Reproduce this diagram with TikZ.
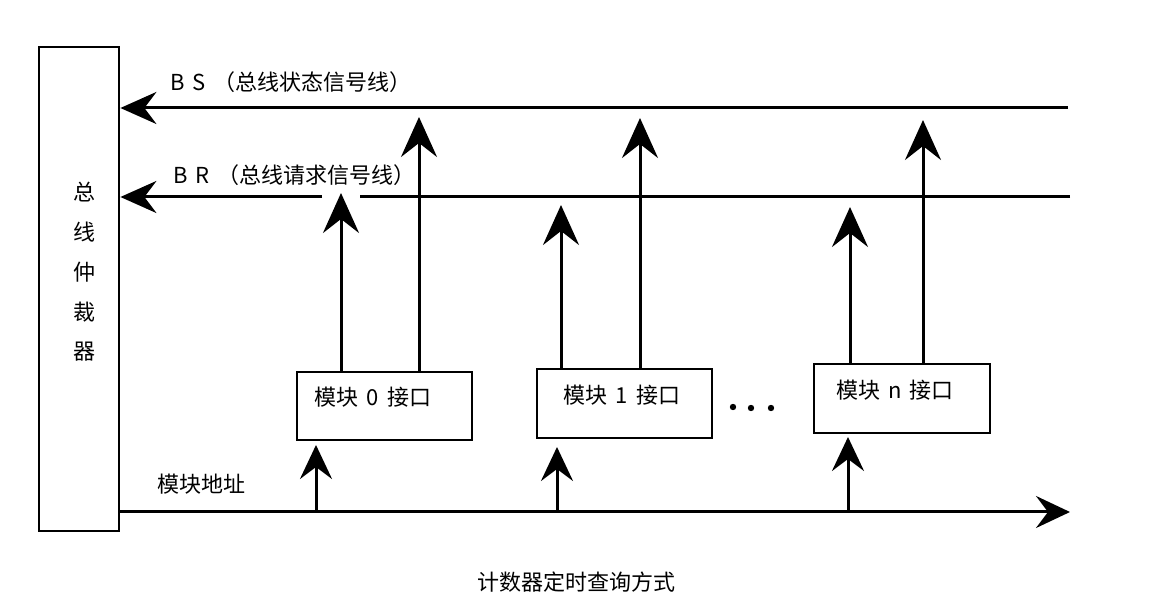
\documentclass[tikz,border=0pt]{standalone}
\usepackage{fontspec}
\setmainfont{Noto Sans CJK SC}
\usetikzlibrary{arrows.meta}
\newcommand{\gp}{\hspace{4pt}}
\begin{document}
\begin{tikzpicture}[x=0.5pt,y=-0.5pt,
  bus/.style={line width=1.5pt},
  frame/.style={draw, line width=1.2pt, inner sep=0pt},
  upar/.style={-{Stealth[length=20pt,width=18pt,inset=7pt]}},
  leftar/.style={-{Stealth[length=18pt,width=16pt,inset=6pt]}},
  addrar/.style={-{Stealth[length=17pt,width=16pt,inset=6pt]}},
  lbl/.style={font=\fontsize{11pt}{13pt}\selectfont, inner sep=0pt},
]
\useasboundingbox (0,0) rectangle (1153,614);
% arbiter
\node[frame, anchor=north west, minimum width=40pt, minimum height=242pt] (arb) at (38,46) {};
\foreach \ch [count=\i] in {总,线,仲,裁,器}
  \node[lbl] (arbt\i) at (85,{192+40*(\i-1)}) {\ch};
% modules
\node[frame, anchor=north west, minimum width=87.5pt, minimum height=34pt] (m0) at (296,371) {};
\node[frame, anchor=north west, minimum width=87.5pt, minimum height=34.5pt] (m1) at (536,368) {};
\node[frame, anchor=north west, minimum width=88pt, minimum height=34.5pt] (mn) at (813,363) {};
\node[lbl] (m0t) at (373,397) {模块\gp 0\gp 接口};
\node[lbl] (m1t) at (622,395) {模块\gp 1\gp 接口};
\node[lbl] (mnt) at (895,390) {模块\gp n\gp 接口};
% dots
\fill (733,407) circle[radius=1.6pt];
\fill (751,408) circle[radius=1.6pt];
\fill (771,408) circle[radius=1.6pt];
% bus coordinates
\coordinate (bsR) at (1068,108);
\coordinate (brR) at (1070,197);
\coordinate (brGR) at (360,197);
\coordinate (brGL) at (322,197);
\coordinate (adR) at (1070,512);
% buses
\draw[bus,leftar] (bsR) -- (bsR -| arb.east);
\draw[bus] (brR) -- (brGR);
\draw[bus,leftar] (brGL) -- (brGL -| arb.east);
\draw[bus,addrar] (adR -| arb.east) -- (adR);
% labels
\node[lbl, anchor=west] (bsl) at (170,82) {B\gp S\gp （总线状态信号线）};
\node[lbl, anchor=west] (brl) at (173,175) {B\gp R\gp （总线请求信号线）};
\node[lbl, anchor=west] (adl) at (157,484) {模块地址};
\node[lbl] (cap) at (576,582) {计数器定时查询方式};
% module request/status arrows
\coordinate (m0r) at (341,193); \coordinate (m0s) at (419,117);
\coordinate (m1r) at (561,205); \coordinate (m1s) at (640,118);
\coordinate (mnr) at (850,207); \coordinate (mns) at (923,120);
\draw[bus,upar] (m0.north -| m0r) -- (m0r);
\draw[bus,upar] (m0.north -| m0s) -- (m0s);
\draw[bus,upar] (m1.north -| m1r) -- (m1r);
\draw[bus,upar] (m1.north -| m1s) -- (m1s);
\draw[bus,upar] (mn.north -| mnr) -- (mnr);
\draw[bus,upar] (mn.north -| mns) -- (mns);
% address arrows
\coordinate (m0a) at (316,445);
\coordinate (m1a) at (557,447);
\coordinate (mna) at (848,437);
\draw[bus,addrar] (adR -| m0a) -- (m0a);
\draw[bus,addrar] (adR -| m1a) -- (m1a);
\draw[bus,addrar] (adR -| mna) -- (mna);
\end{tikzpicture}
\end{document}
